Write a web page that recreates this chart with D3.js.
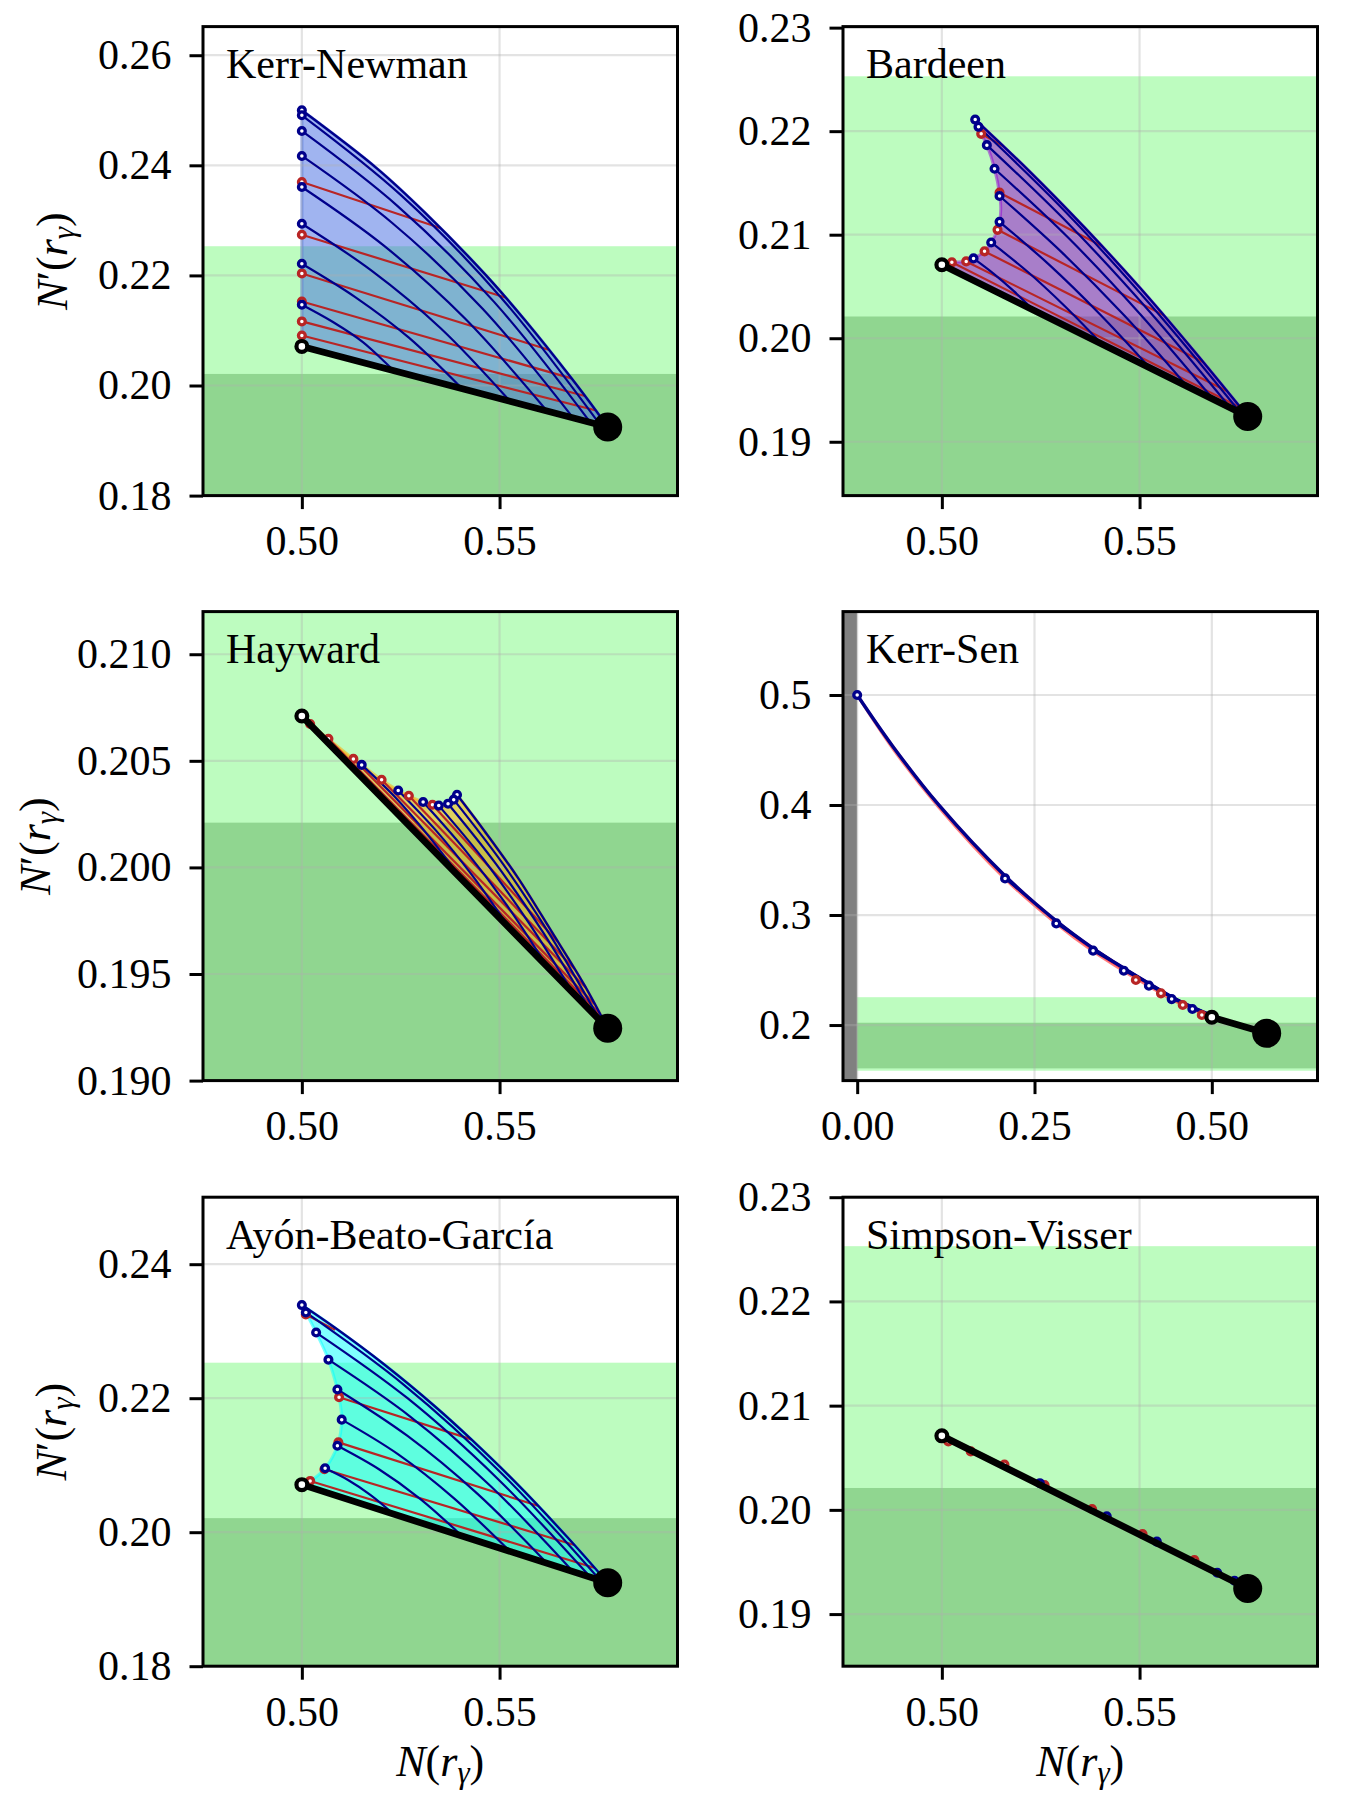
<!DOCTYPE html>
<html><head><meta charset="utf-8">
<script src="https://cdn.jsdelivr.net/npm/d3@7"></script>
<style>body{margin:0;background:#fff}svg{display:block}</style>
</head><body>
<svg id="fig" width="1350" height="1800"></svg>
<script>
// ===================== DATA =====================
const panelTitles = ["Kerr-Newman","Bardeen","Hayward","Kerr-Sen","Ayón-Beato-García","Simpson-Visser"];
const panelXlims = [[0.475,0.595],[0.475,0.595],[0.475,0.595],[-0.02,0.649],[0.475,0.595],[0.475,0.595]];
const panelYlims = [[0.18,0.2652],[0.1848,0.2301],[0.19,0.212],[0.1495,0.5758],[0.18,0.25],[0.185,0.230]];
const panelXticks = [[0.50,0.55],[0.50,0.55],[0.50,0.55],[0.00,0.25,0.50],[0.50,0.55],[0.50,0.55]];
const panelYticks = [[0.18,0.20,0.22,0.24,0.26],[0.19,0.20,0.21,0.22,0.23],[0.190,0.195,0.200,0.205,0.210],[0.2,0.3,0.4,0.5],[0.18,0.20,0.22,0.24],[0.19,0.20,0.21,0.22,0.23]];
const panelYdecimals = [2,2,3,1,2,2];
const panelFills = ["royalblue","darkviolet","orange","red","cyan",null];

// observational bands (N' values)
const bandLight = [0.1585,0.2253];
const bandDark = [0.1606,0.2021];

// Kerr line (q = 0) and reference points
const kerrLine = [[0.5,0.2071],[0.57735,0.19245]];
const extremalKerrPt = [0.5,0.2071];
const schwarzschildPt = [0.57735,0.19245];
// end points of constant-spin curves on the Kerr line
const kerrEnds = [[0.5755,0.1928],[0.5730,0.19327],[0.5686,0.19411],[0.5620,0.19536],[0.5527,0.1971],[0.5405,0.19943],[0.5232,0.20271]];

// ---- Kerr-Newman ----
const knExtremal = [[0.5,0.2071],[0.5,0.2500]];
const knEnvelope = [[0.5,0.25],[0.5189,0.2395],[0.5310,0.2315],[0.5466,0.2200],[0.5565,0.2118],[0.5682,0.2013],[0.5744,0.1954],[0.57735,0.19245]];
const knBlue = [
 [[0.5,0.24909],[0.52513,0.23455],[0.55035,0.2160],[0.5755,0.1928]],
 [[0.5,0.24624],[0.52429,0.23255],[0.54867,0.21515],[0.5730,0.19327]],
 [[0.5,0.2417],[0.52286,0.22952],[0.54572,0.21394],[0.5686,0.19411]],
 [[0.5,0.23606],[0.52066,0.22545],[0.54133,0.21212],[0.5620,0.19536]],
 [[0.5,0.22939],[0.51754,0.22091],[0.53517,0.21036],[0.5527,0.1971]],
 [[0.5,0.22212],[0.5135,0.21606],[0.52699,0.20873],[0.5405,0.19943]],
 [[0.5,0.21467],[0.50776,0.21158],[0.51544,0.20788],[0.5232,0.20271]]
];
const knRed = [
 [[0.5,0.23697],[0.5350,0.2286]],
 [[0.5,0.22739],[0.5515,0.2160]],
 [[0.5,0.22036],[0.5624,0.2065]],
 [[0.5,0.21527],[0.5682,0.2013]],
 [[0.5,0.21164],[0.5716,0.1981]],
 [[0.5,0.20909],[0.5742,0.1955]]
];

// ---- Bardeen ----
const bdExtremal = [[0.5,0.2071],[0.50253,0.20733],[0.50616,0.20742],[0.50801,0.20771],[0.51079,0.20839],[0.51248,0.20925],[0.51408,0.21047],[0.51459,0.21124],[0.5149,0.2125],[0.51459,0.21390],[0.51332,0.21637],[0.51138,0.21865],[0.50995,0.21974],[0.50927,0.22042],[0.50843,0.22112]];
const bdEnvelope = [[0.50843,0.22112],[0.52218,0.21612],[0.53600,0.21073],[0.54983,0.20499],[0.56357,0.19886],[0.57735,0.19245]];
const bdBlue = [
 [[0.50927,0.22042],[0.53137,0.21217],[0.55337,0.20296],[0.5755,0.1928]],
 [[0.51138,0.21865],[0.53196,0.21108],[0.55245,0.20261],[0.5730,0.19327]],
 [[0.51332,0.21637],[0.53179,0.20977],[0.55017,0.20232],[0.5686,0.19411]],
 [[0.51459,0.21374],[0.53035,0.20829],[0.54621,0.20216],[0.5620,0.19536]],
 [[0.51459,0.21124],[0.52732,0.20704],[0.53997,0.20232],[0.5527,0.1971]],
 [[0.51248,0.20925],[0.52184,0.20637],[0.53111,0.20309],[0.5405,0.19943]],
 [[0.50801,0.20771],[0.51307,0.20624],[0.51813,0.20457],[0.5232,0.20271]]
];
const bdRed = [
 [[0.50995,0.21974],[0.5154,0.2186]],
 [[0.51459,0.21406],[0.54047,0.2089]],
 [[0.51408,0.21047],[0.55607,0.20223]],
 [[0.51079,0.20839],[0.56619,0.19767]],
 [[0.50616,0.20742],[0.57209,0.19491]],
 [[0.50253,0.20733],[0.57546,0.19331]]
];

// ---- Hayward ----
const hwExtremal = [[0.5,0.2071],[0.5021,0.20673],[0.50672,0.20603],[0.51303,0.20509],[0.51513,0.20481],[0.52017,0.20411],[0.52437,0.20361],[0.52706,0.20336],[0.53067,0.20307],[0.53303,0.20294],[0.53462,0.2029],[0.53697,0.20299],[0.5384,0.20318],[0.53924,0.20341]];
const hwEnvelope = [[0.53924,0.20341],[0.54622,0.2017],[0.55462,0.19952],[0.56303,0.19703],[0.57143,0.19449],[0.57735,0.19245]];
const hwBlue = [
 [[0.5384,0.20318],[0.55076,0.20019],[0.56311,0.19673],[0.5755,0.1928]],
 [[0.53697,0.20299],[0.54899,0.20019],[0.56101,0.19695],[0.5730,0.19327]],
 [[0.53462,0.2029],[0.54597,0.20037],[0.55723,0.19745],[0.5686,0.19411]],
 [[0.53067,0.20307],[0.54109,0.20086],[0.5516,0.19829],[0.5620,0.19536]],
 [[0.52437,0.20361],[0.53378,0.20176],[0.54328,0.19958],[0.5527,0.1971]],
 [[0.51513,0.20481],[0.52361,0.20329],[0.53202,0.20148],[0.5405,0.19943]]
];
const hwRed = [
 [[0.5021,0.20673],[0.57605,0.19287]],
 [[0.50672,0.20603],[0.57521,0.19316]],
 [[0.51303,0.20509],[0.57395,0.1936]],
 [[0.52017,0.20411],[0.57185,0.19436]],
 [[0.52706,0.20336],[0.56891,0.19525]],
 [[0.53303,0.20294],[0.56471,0.19651]]
];

// ---- Kerr-Sen ----
const ksEnvelope = [[0,0.5],[0.05,0.4535],[0.1144,0.4005],[0.2086,0.3355],[0.281,0.2945],[0.3321,0.2700],[0.3759,0.2517],[0.4113,0.2379],[0.4434,0.2256],[0.4726,0.2163],[0.5,0.2086],[0.54,0.1998],[0.57735,0.19245]];
const ksExtremal = [[0.5,0.2071],[0.4726,0.2144],[0.4434,0.2233],[0.4113,0.2354],[0.3759,0.2490],[0.3321,0.2672],[0.281,0.2920],[0.2086,0.3329],[0.1144,0.3985],[0.05,0.4515],[0,0.5]];
const ksBlueMarkers = [[0,0.5],[0.2085,0.3333],[0.2807,0.2924],[0.3326,0.2676],[0.3759,0.2494],[0.4113,0.2358],[0.4434,0.2236],[0.4726,0.2146]];
const ksRedMarkers = [[0.3929,0.2409],[0.4283,0.2288],[0.4590,0.2182],[0.4859,0.2091]];

// ---- Ayón-Beato-García ----
const abExtremal = [[0.5,0.2071],[0.5021,0.20765],[0.50588,0.20955],[0.50899,0.2129],[0.51008,0.2168],[0.50941,0.22015],[0.50899,0.2213],[0.50672,0.22575],[0.50361,0.2298],[0.50101,0.2328],[0.5,0.2339]];
const abEnvelope = [[0.5,0.2339],[0.5084,0.2305],[0.52101,0.22495],[0.53361,0.2188],[0.54286,0.21385],[0.55462,0.2071],[0.56723,0.1992],[0.57735,0.19245]];
const abBlue = [
 [[0.50101,0.2328],[0.5258,0.2220],[0.55067,0.2087],[0.5755,0.1928]],
 [[0.50361,0.2298],[0.52672,0.2200],[0.54983,0.2078],[0.5730,0.19327]],
 [[0.50672,0.22575],[0.52731,0.2173],[0.54798,0.20675],[0.5686,0.19411]],
 [[0.50899,0.2213],[0.52664,0.2144],[0.54437,0.20575],[0.5620,0.19536]],
 [[0.51008,0.2168],[0.52429,0.21165],[0.53849,0.20505],[0.5527,0.1971]],
 [[0.50899,0.2129],[0.5195,0.2094],[0.5300,0.20495],[0.5405,0.19943]],
 [[0.50588,0.20955],[0.51168,0.2078],[0.5174,0.20555],[0.5232,0.20271]]
];
const abRed = [
 [[0.50101,0.2325],[0.5084,0.2302]],
 [[0.50941,0.22015],[0.54286,0.21385]],
 [[0.50924,0.2134],[0.55966,0.20395]],
 [[0.50571,0.2094],[0.56891,0.1981]],
 [[0.5021,0.20765],[0.57395,0.1947]]
];

// ---- Simpson-Visser ----
const svRedMarkers = [[0.50164,0.20656],[0.50731,0.20561],[0.51583,0.20435],[0.52598,0.20237],[0.53799,0.20008],[0.55076,0.19767],[0.56387,0.19519]];
const svBlueMarkers = [[0.52478,0.20256],[0.5417,0.19939],[0.55437,0.19695],[0.56965,0.19397],[0.57402,0.1932]];

// ===================== STYLE / LAYOUT =====================
const FONT = "'Liberation Serif','Times New Roman',serif";
const lightGreen = "#bdfcbf", darkGreen = "#90d690";
const blueC = "#00008b", redC = "#b82525";
const PW = 474.5, PH = 469;
const colLeft = [203, 843];
const rowTop = [26.6, 611.6, 1197.2];
const yLabelX = [67, 50, 66];

// Kerr-Sen constant-spin curves built from its own tables
const ksBlue = ksBlueMarkers.slice(1).map((m, i) => {
  const end = kerrEnds[i];
  return [m].concat(ksEnvelope.filter(p => p[0] > m[0] + 0.015 && p[0] < end[0] - 0.015)).concat([end]);
});

const panels = [
 {extremal: knExtremal, envelope: knEnvelope, blue: knBlue, red: knRed, envW: 2.4},
 {extremal: bdExtremal, envelope: bdEnvelope, blue: bdBlue, red: bdRed, envW: 2.4},
 {extremal: hwExtremal, envelope: hwEnvelope, blue: hwBlue, red: hwRed, envW: 2.4},
 {extremal: ksExtremal, envelope: ksEnvelope, blue: ksBlue, red: [], blueMarkers: ksBlueMarkers, redMarkers: ksRedMarkers, grayBand: true, envW: 3.4},
 {extremal: abExtremal, envelope: abEnvelope, blue: abBlue, red: abRed, envW: 2.4},
 {extremal: null, envelope: null, blue: [], red: [], blueMarkers: svBlueMarkers, redMarkers: svRedMarkers}
].map((p, i) => Object.assign(p, {
  title: panelTitles[i], xlim: panelXlims[i], ylim: panelYlims[i],
  xticks: panelXticks[i], yticks: panelYticks[i], ydec: panelYdecimals[i],
  fill: panelFills[i], col: i % 2, row: Math.floor(i / 2)
}));

const svg = d3.select("#fig");
const defs = svg.append("defs");

panels.forEach((p, i) => {
  const L = colLeft[p.col], T = rowTop[p.row];
  const x = d3.scaleLinear().domain(p.xlim).range([L, L + PW]);
  const y = d3.scaleLinear().domain(p.ylim).range([T + PH, T]);
  const lineS = d3.line().x(d => x(d[0])).y(d => y(d[1])).curve(d3.curveCatmullRom.alpha(0.5));
  const lineL = d3.line().x(d => x(d[0])).y(d => y(d[1]));

  defs.append("clipPath").attr("id", "clip" + i).append("rect")
    .attr("x", L).attr("y", T).attr("width", PW).attr("height", PH);
  const g = svg.append("g");
  const gc = g.append("g").attr("clip-path", `url(#clip${i})`);

  // bands
  gc.append("rect").attr("x", L).attr("width", PW)
    .attr("y", y(bandLight[1])).attr("height", y(bandLight[0]) - y(bandLight[1])).attr("fill", lightGreen);
  gc.append("rect").attr("x", L).attr("width", PW)
    .attr("y", y(bandDark[1])).attr("height", y(bandDark[0]) - y(bandDark[1])).attr("fill", darkGreen);
  if (p.grayBand) {
    gc.append("rect").attr("x", x(p.xlim[0])).attr("width", x(0) - x(p.xlim[0]))
      .attr("y", T).attr("height", PH).attr("fill", "#808080");
  }

  // filled region
  if (p.fill && p.extremal) {
    const d = lineS(p.extremal) + lineS(p.envelope).replace(/^M/, "L") +
              lineL(kerrLine.slice().reverse()).replace(/^M/, "L") + "Z";
    gc.append("path").attr("d", d).attr("fill", p.fill).attr("fill-opacity", 0.5)
      .attr("stroke", p.fill).attr("stroke-opacity", 0.5).attr("stroke-width", 3).attr("stroke-linejoin", "round");
  }

  // grid
  p.xticks.forEach(t => gc.append("line").attr("x1", x(t)).attr("x2", x(t)).attr("y1", T).attr("y2", T + PH)
    .attr("stroke", "#b0b0b0").attr("stroke-opacity", 0.35).attr("stroke-width", 2.2));
  p.yticks.forEach(t => gc.append("line").attr("y1", y(t)).attr("y2", y(t)).attr("x1", L).attr("x2", L + PW)
    .attr("stroke", "#b0b0b0").attr("stroke-opacity", 0.35).attr("stroke-width", 2.2));

  // curves
  p.red.forEach(c => gc.append("path").attr("d", lineL(c)).attr("fill", "none")
    .attr("stroke", redC).attr("stroke-width", 2.2));
  p.blue.forEach(c => gc.append("path").attr("d", lineS(c)).attr("fill", "none")
    .attr("stroke", blueC).attr("stroke-width", 2.2));
  if (p.envelope) gc.append("path").attr("d", lineS(p.envelope)).attr("fill", "none")
    .attr("stroke", blueC).attr("stroke-width", p.envW);

  // markers
  const redM = p.redMarkers || p.red.map(c => c[0]);
  const blueM = p.blueMarkers || [p.envelope[0]].concat(p.blue.map(c => c[0]));
  redM.forEach(m => gc.append("circle").attr("cx", x(m[0])).attr("cy", y(m[1])).attr("r", 3.4)
    .attr("fill", "#fff").attr("stroke", redC).attr("stroke-width", 3.3));
  blueM.forEach(m => gc.append("circle").attr("cx", x(m[0])).attr("cy", y(m[1])).attr("r", 3.4)
    .attr("fill", "#fff").attr("stroke", blueC).attr("stroke-width", 3.3));

  // Kerr line and end points
  gc.append("path").attr("d", lineL(kerrLine)).attr("fill", "none").attr("stroke", "#000")
    .attr("stroke-width", 6.8).attr("stroke-linecap", "round");
  gc.append("circle").attr("cx", x(extremalKerrPt[0])).attr("cy", y(extremalKerrPt[1])).attr("r", 5.4)
    .attr("fill", "#fff").attr("stroke", "#000").attr("stroke-width", 4.2);
  gc.append("circle").attr("cx", x(schwarzschildPt[0])).attr("cy", y(schwarzschildPt[1])).attr("r", 14.5)
    .attr("fill", "#000");

  // frame
  g.append("rect").attr("x", L).attr("y", T).attr("width", PW).attr("height", PH)
    .attr("fill", "none").attr("stroke", "#000").attr("stroke-width", 3);

  // axes
  const ay = g.append("g").attr("transform", `translate(${L},0)`)
    .call(d3.axisLeft(y).tickValues(p.yticks).tickFormat(d3.format(`.${p.ydec}f`)).tickSize(13.5).tickPadding(18));
  const ax = g.append("g").attr("transform", `translate(0,${T + PH})`)
    .call(d3.axisBottom(x).tickValues(p.xticks).tickFormat(d3.format(".2f")).tickSize(13.5).tickPadding(16));
  [ay, ax].forEach(a => {
    a.select(".domain").remove();
    a.selectAll(".tick line").attr("stroke", "#000").attr("stroke-width", 3);
    a.selectAll(".tick text").attr("fill", "#000").attr("font-size", 42).attr("font-family", FONT);
  });

  // title
  g.append("text").attr("x", L + 23).attr("y", T + 51.5).attr("font-family", FONT)
    .attr("font-size", 42).attr("fill", "#000").text(p.title);

  // y label
  if (p.col === 0) {
    const lab = g.append("text").attr("transform", `translate(${yLabelX[p.row]},${T + PH / 2}) rotate(-90)`)
      .attr("text-anchor", "middle").attr("font-family", FONT).attr("font-size", 44).attr("fill", "#000");
    lab.append("tspan").attr("font-style", "italic").text("N");
    lab.append("tspan").text("′(");
    lab.append("tspan").attr("font-style", "italic").text("r");
    lab.append("tspan").attr("font-style", "italic").attr("font-size", 31).attr("dy", 7).text("γ");
    lab.append("tspan").attr("dy", -7).text(")");
  }
  // x label
  if (p.row === 2) {
    const lab = g.append("text").attr("x", L + PW / 2).attr("y", 1776)
      .attr("text-anchor", "middle").attr("font-family", FONT).attr("font-size", 44).attr("fill", "#000");
    lab.append("tspan").attr("font-style", "italic").text("N");
    lab.append("tspan").text("(");
    lab.append("tspan").attr("font-style", "italic").text("r");
    lab.append("tspan").attr("font-style", "italic").attr("font-size", 31).attr("dy", 7).text("γ");
    lab.append("tspan").attr("dy", -7).text(")");
  }
});
</script>
</body></html>
